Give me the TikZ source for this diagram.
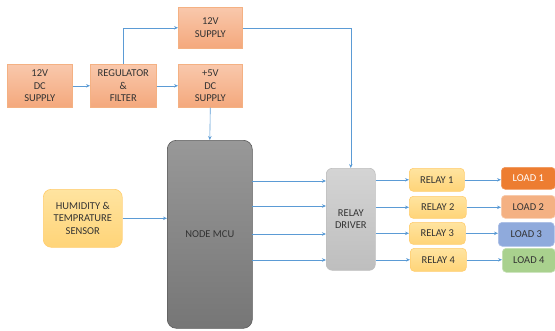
\documentclass[tikz,border=0pt]{standalone}
\usepackage{fontspec}
\setmainfont{Carlito}
\usetikzlibrary{arrows.meta}
\definecolor{arr}{HTML}{5B9BD5}
\definecolor{txt}{HTML}{333333}
\tikzset{
  every node/.style={font=\fontsize{10.5}{12.5}\selectfont, text=txt, align=center, inner sep=1pt},
  obox/.style={draw={rgb,255:red,244;green,177;blue,131}, top color={rgb,255:red,249;green,200;blue,172}, bottom color={rgb,255:red,244;green,168;blue,124}, line width=0.6pt, anchor=north west},
  ybox/.style={draw={rgb,255:red,255;green,205;blue,110}, top color={rgb,255:red,255;green,228;blue,160}, bottom color={rgb,255:red,255;green,212;blue,120}, line width=0.6pt, rounded corners=4pt, anchor=north west},
  lbox/.style={line width=0.6pt, rounded corners=4pt, anchor=north west},
  conn/.style={draw=arr, line width=0.6pt, -{Stealth[length=4pt,width=3.5pt]}},
}
\begin{document}
\begin{tikzpicture}[x=1pt,y=-1pt]
\useasboundingbox (0,0) rectangle (555,330);
% power
\node[obox, minimum width=65pt, minimum height=43pt] (dc) at (7,64) {12V\\DC\\SUPPLY};
\node[obox, minimum width=66pt, minimum height=43pt] (reg) at (90,64) {REGULATOR\\\&\\FILTER};
\node[obox, minimum width=64pt, minimum height=41pt] (s12) at (178,7) {12V\\SUPPLY};
\node[obox, minimum width=64pt, minimum height=43pt] (v5) at (178,64) {+5V\\DC\\SUPPLY};
% sensor and MCU
\node[ybox, rounded corners=8pt, minimum width=79pt, minimum height=58pt] (sen) at (43,189) {HUMIDITY \&\\TEMPRATURE\\SENSOR};
\node[draw={rgb,255:red,90;green,90;blue,90}, top color={rgb,255:red,152;green,152;blue,152}, bottom color={rgb,255:red,118;green,118;blue,118}, line width=0.6pt, rounded corners=9pt, anchor=north west, minimum width=85pt, minimum height=188pt] (mcu) at (167,140) {NODE MCU};
\node[draw={rgb,255:red,190;green,190;blue,190}, top color={rgb,255:red,212;green,212;blue,212}, bottom color={rgb,255:red,190;green,190;blue,190}, line width=0.6pt, rounded corners=6pt, anchor=north west, minimum width=49pt, minimum height=102pt] (drv) at (326,168) {RELAY\\DRIVER};
% relays
\node[ybox, minimum width=55pt, minimum height=23pt] (r1) at (409,168) {RELAY 1};
\node[ybox, minimum width=57pt, minimum height=22pt] (r2) at (409,196) {RELAY 2};
\node[ybox, minimum width=56pt, minimum height=22pt] (r3) at (409,222) {RELAY 3};
\node[ybox, minimum width=56pt, minimum height=23pt] (r4) at (410,248) {RELAY 4};
% loads
\node[lbox, draw={rgb,255:red,240;green,150;blue,90}, fill={rgb,255:red,237;green,125;blue,49}, text=white, minimum width=54pt, minimum height=22pt] (l1) at (501,167) {LOAD 1};
\node[lbox, draw={rgb,255:red,248;green,203;blue,173}, fill={rgb,255:red,244;green,177;blue,131}, minimum width=54pt, minimum height=23pt] (l2) at (501,195) {LOAD 2};
\node[lbox, draw={rgb,255:red,170;green,190;blue,230}, fill={rgb,255:red,143;green,170;blue,220}, minimum width=56pt, minimum height=24pt] (l3) at (498,222) {LOAD 3};
\node[lbox, draw={rgb,255:red,197;green,224;blue,180}, fill={rgb,255:red,169;green,209;blue,142}, minimum width=53pt, minimum height=24pt] (l4) at (502,248) {LOAD 4};
% connectors
\draw[conn] (dc) -- (reg);
\draw[conn] (reg) -- (v5);
\draw[conn] (reg.north) |- (s12.west);
\draw[conn] (s12.east) -| (drv.north);
\draw[conn] (v5.south) -- (mcu.north);
\draw[conn] (sen.east) -- (sen.east -| mcu.west);
\coordinate (m1) at (252,181);
\coordinate (m2) at (252,206);
\coordinate (m3) at (252,234);
\coordinate (m4) at (252,260);
\draw[conn] (m1) -- (m1 -| drv.west);
\draw[conn] (m2) -- (m2 -| drv.west);
\draw[conn] (m3) -- (m3 -| drv.west);
\draw[conn] (m4) -- (m4 -| drv.west);
\draw[conn] (drv.east |- r1.west) -- (r1.west);
\draw[conn] (drv.east |- r2.west) -- (r2.west);
\draw[conn] (drv.east |- r3.west) -- (r3.west);
\draw[conn] (drv.east |- r4.west) -- (r4.west);
\draw[conn] (r1.east) -- (r1.east -| l1.west);
\draw[conn] (r2.east) -- (r2.east -| l2.west);
\draw[conn] (r3.east) -- (r3.east -| l3.west);
\draw[conn] (r4.east) -- (r4.east -| l4.west);
\end{tikzpicture}
\end{document}
